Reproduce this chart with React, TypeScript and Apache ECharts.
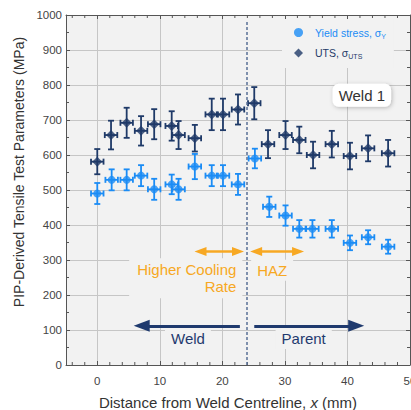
import React, { useEffect, useRef } from "react";
import * as echarts from "echarts";

// ---- data ----
const yieldX = [0, 2.3, 4.7, 7.0, 9.1, 11.9, 13.0, 15.6, 18.3, 20.1, 22.5, 25.2, 27.5, 30.1, 32.3, 34.4, 37.5, 40.4, 43.3, 46.5];
const yieldY = [490, 529, 529, 541, 502, 516, 502, 567, 541, 541, 516, 590, 452, 427, 389, 389, 389, 349, 365, 338];
const yieldYErr = [30, 30, 30, 30, 30, 28, 30, 36, 30, 30, 30, 28, 29, 29, 25, 25, 25, 21, 20, 20];
const yieldXErr = [1, 1, 1, 1, 1, 1, 1, 1, 1, 1, 1, 1, 1, 1, 1, 1, 1, 1, 1, 1];

const utsX = [0, 2.2, 4.7, 7.0, 9.1, 11.9, 13.0, 15.6, 18.3, 20.1, 22.5, 25.1, 27.3, 30.1, 32.3, 34.5, 37.5, 40.4, 43.3, 46.5];
const utsY = [581, 657, 692, 669, 688, 683, 657, 648, 716, 716, 730, 748, 631, 657, 643, 600, 631, 597, 619, 605];
const utsYErr = [36, 41, 43, 42, 43, 42, 40, 38, 45, 45, 43, 46, 40, 40, 38, 38, 38, 38, 37, 38];
const utsXErr = [1, 1, 1, 1, 1, 1, 1, 1, 1, 1, 1, 1, 1, 1, 1, 1, 1, 1, 1, 1];

const xMinorTicks = [-4, -2, 2, 4, 6, 8, 12, 14, 16, 18, 22, 24, 26, 28, 32, 34, 36, 38, 42, 44, 46, 48];
const weldBoundary = 23.9;

const YC = "#1b8cf5";
const UC = "#1f3a68";
const OR = "#f7a823";
const NAVY = "#1f3a6e";
const FONT = "'Liberation Sans', Arial, sans-serif";
const BG = "#f2f2f2";

function errorRender(color: string) {
  return (params: any, api: any) => {
    const x = api.value(0);
    const y = api.value(1);
    const ex = api.value(2);
    const ey = api.value(3);
    const top = api.coord([x, y + ey]);
    const bot = api.coord([x, y - ey]);
    const l = api.coord([x - ex, y]);
    const r = api.coord([x + ex, y]);
    const cap = 3;
    const style = { stroke: color, lineWidth: 1.8 };
    const ln = (x1: number, y1: number, x2: number, y2: number) => ({
      type: "line",
      shape: { x1, y1, x2, y2 },
      style,
    });
    return {
      type: "group",
      children: [
        ln(top[0], top[1], bot[0], bot[1]),
        ln(top[0] - cap, top[1], top[0] + cap, top[1]),
        ln(bot[0] - cap, bot[1], bot[0] + cap, bot[1]),
        ln(l[0], l[1], r[0], r[1]),
        ln(l[0], l[1] - cap, l[0], l[1] + cap),
        ln(r[0], r[1] - cap, r[0], r[1] + cap),
      ],
    };
  };
}

export default function App() {
  const ref = useRef<HTMLDivElement>(null);
  useEffect(() => {
    document.body.style.margin = "0";
    const chart = echarts.init(ref.current!, undefined, { renderer: "svg" });
    const axisColor = "#555";
    const option: any = {
      animation: false,
      textStyle: { fontFamily: FONT },
      grid: {
        left: 66,
        top: 15,
        width: 344,
        height: 350,
        show: true,
        backgroundColor: BG,
        borderWidth: 0,
        containLabel: false,
        outerBoundsMode: "none",
      },
      legend: {
        orient: "vertical",
        left: 282,
        top: 19,
        padding: [8, 8, 8, 12],
        itemGap: 8,
        itemWidth: 9,
        itemHeight: 9,
        symbolKeepAspect: true,
        backgroundColor: BG,
        selectedMode: false,
        data: ["Yield", "UTS"],
        formatter: (name: string) =>
          name === "Yield" ? "{y|Yield stress, σ}{ys|Y}" : "{u|UTS, σ}{us|UTS}",
        textStyle: {
          rich: {
            y: { color: YC, fontSize: 10.5, lineHeight: 14, fontFamily: FONT, padding: [0, 0, 0, 7] },
            ys: { color: YC, fontSize: 7, lineHeight: 8, verticalAlign: "bottom", fontFamily: FONT },
            u: { color: UC, fontSize: 10.5, lineHeight: 14, fontFamily: FONT, padding: [0, 0, 0, 7] },
            us: { color: UC, fontSize: 7, lineHeight: 8, verticalAlign: "bottom", fontFamily: FONT },
          },
        },
      },
      xAxis: [
        {
          type: "value",
          min: -5,
          max: 50,
          splitNumber: 5,
          name: "{n|Distance from Weld Centreline, }{i|x}{n| (mm)}",
          nameLocation: "middle",
          nameGap: 30,
          nameTextStyle: {
            padding: [0, 20, 0, 0],
            rich: {
              n: { fontSize: 15, color: "#333", fontFamily: FONT },
              i: { fontSize: 15, color: "#333", fontStyle: "italic", fontFamily: FONT },
            },
          },
          axisLine: { show: true, onZero: false, lineStyle: { color: axisColor } },
          axisTick: { show: true, inside: true, length: 4, lineStyle: { color: axisColor } },
          axisLabel: { showMinLabel: false, color: "#444", fontSize: 11.5, margin: 10 },
          splitLine: { show: true, lineStyle: { color: "#c6c6c6" } },
        },
        {
          type: "value",
          position: "top",
          min: -5,
          max: 50,
          splitNumber: 5,
          axisLine: { show: true, onZero: false, lineStyle: { color: axisColor } },
          axisTick: { show: true, inside: true, length: 4, lineStyle: { color: axisColor } },
          axisLabel: { show: false },
          splitLine: { show: false },
        },
      ],
      yAxis: [
        {
          type: "value",
          min: 0,
          max: 1000,
          interval: 100,
          name: "PIP-Derived Tensile Test Parameters (MPa)",
          nameLocation: "middle",
          nameGap: 38,
          nameTextStyle: { fontSize: 14, color: "#333", padding: [0, 0, 0, 36] },
          axisLine: { show: true, onZero: false, lineStyle: { color: axisColor } },
          axisTick: { show: true, inside: true, length: 4, lineStyle: { color: axisColor } },
          minorTick: { show: true, splitNumber: 2, length: 3, lineStyle: { color: axisColor } },
          axisLabel: { color: "#444", fontSize: 11.5, margin: 4, formatter: (v: number) => String(v) },
          splitLine: { show: true, lineStyle: { color: "#c6c6c6" } },
        },
        {
          type: "value",
          position: "right",
          min: 0,
          max: 1000,
          interval: 100,
          axisLine: { show: true, onZero: false, lineStyle: { color: axisColor } },
          axisTick: { show: true, inside: true, length: 4, lineStyle: { color: axisColor } },
          minorTick: { show: true, splitNumber: 2, length: 3, lineStyle: { color: axisColor } },
          axisLabel: { show: false },
          splitLine: { show: false },
        },
      ],
      series: [
        {
          type: "custom",
          name: "xminor",
          silent: true,
          renderItem: (params: any, api: any) => {
            const x = api.value(0);
            const b = api.coord([x, 0]);
            const t = api.coord([x, 1000]);
            const style = { stroke: axisColor, lineWidth: 1 };
            return {
              type: "group",
              children: [
                { type: "line", shape: { x1: b[0], y1: b[1], x2: b[0], y2: b[1] - 3 }, style },
                { type: "line", shape: { x1: t[0], y1: t[1], x2: t[0], y2: t[1] + 3 }, style },
              ],
            };
          },
          encode: { x: 0, y: 1 },
          data: xMinorTicks.map((v) => [v, 0]),
          z: 1,
          markLine: {
            silent: true,
            label: { show: false },
            emphasis: { disabled: true },
            data: [
              [
                { xAxis: weldBoundary, yAxis: 0, symbol: "none", lineStyle: { color: "#5a7096", width: 1.5, type: [3, 2] } },
                { xAxis: weldBoundary, yAxis: 985, symbol: "none", lineStyle: { color: "#5a7096", width: 1.5, type: [3, 2] } },
              ],
              [
                { coord: [16.5, 324], symbol: "triangle", symbolSize: [9, 12], lineStyle: { color: OR, width: 2.5, type: "solid" } },
                { coord: [22.5, 324], symbol: "triangle", symbolSize: [9, 12], lineStyle: { color: OR, width: 2.5, type: "solid" } },
              ],
              [
                { coord: [25.4, 324], symbol: "triangle", symbolSize: [9, 12], lineStyle: { color: OR, width: 2.5, type: "solid" } },
                { coord: [32.1, 324], symbol: "triangle", symbolSize: [9, 12], lineStyle: { color: OR, width: 2.5, type: "solid" } },
              ],
              [
                { coord: [22.8, 112], symbol: "none", lineStyle: { color: NAVY, width: 3, type: "solid" } },
                { coord: [7.1, 112], symbol: "triangle", symbolSize: [12, 16], lineStyle: { color: NAVY, width: 3, type: "solid" } },
              ],
              [
                { coord: [25.1, 112], symbol: "none", lineStyle: { color: NAVY, width: 3, type: "solid" } },
                { coord: [41.4, 112], symbol: "triangle", symbolSize: [12, 16], lineStyle: { color: NAVY, width: 3, type: "solid" } },
              ],
            ],
          },
          markPoint: {
            silent: true,
            symbol: "circle",
            symbolSize: 0,
            itemStyle: { color: "rgba(0,0,0,0)" },
            data: [
              {
                coord: [23.2, 247.6],
                label: {
                  show: true,
                  position: "left",
                  distance: 0,
                  formatter: "Higher Cooling\nRate",
                  align: "right",
                  color: OR,
                  fontSize: 15,
                  lineHeight: 17,
                  backgroundColor: BG,
                  padding: [3, 6, 3, 8],
                },
              },
              {
                coord: [24.6, 271],
                label: {
                  show: true,
                  position: "right",
                  distance: 0,
                  formatter: "HAZ",
                  color: OR,
                  fontSize: 15,
                  backgroundColor: BG,
                  padding: [3, 6],
                },
              },
              {
                coord: [14.5, 76],
                label: {
                  show: true,
                  position: "inside",
                  formatter: "Weld",
                  color: NAVY,
                  fontSize: 15,
                  backgroundColor: BG,
                  padding: [3, 6],
                },
              },
              {
                coord: [33.0, 76],
                label: {
                  show: true,
                  position: "inside",
                  formatter: "Parent",
                  color: NAVY,
                  fontSize: 15,
                  backgroundColor: BG,
                  padding: [3, 6],
                },
              },
              {
                coord: [42.3, 771],
                label: {
                  show: true,
                  position: "inside",
                  formatter: "Weld 1",
                  color: "#333",
                  fontSize: 15,
                  backgroundColor: "#ffffff",
                  borderRadius: 6,
                  padding: [4, 6],
                  shadowBlur: 4,
                  shadowColor: "rgba(0,0,0,0.25)",
                  shadowOffsetX: 1,
                  shadowOffsetY: 1,
                },
              },
            ],
          },
        },
        {
          type: "custom",
          name: "yieldErr",
          silent: true,
          renderItem: errorRender(YC),
          encode: { x: 0, y: 1 },
          data: yieldX.map((x, i) => [x, yieldY[i], yieldXErr[i], yieldYErr[i]]),
          z: 2,
        },
        {
          type: "custom",
          name: "utsErr",
          silent: true,
          renderItem: errorRender(UC),
          encode: { x: 0, y: 1 },
          data: utsX.map((x, i) => [x, utsY[i], utsXErr[i], utsYErr[i]]),
          z: 2,
        },
        {
          type: "scatter",
          name: "Yield",
          symbol: "circle",
          symbolSize: 8,
          itemStyle: { color: YC },
          data: yieldX.map((x, i) => [x, yieldY[i]]),
          z: 3,
        },
        {
          type: "scatter",
          name: "UTS",
          symbol: "diamond",
          symbolSize: 10,
          itemStyle: { color: UC },
          data: utsX.map((x, i) => [x, utsY[i]]),
          z: 3,
        },
      ],
    };
    chart.setOption(option);
    return () => chart.dispose();
  }, []);
  return <div ref={ref} style={{ width: 411, height: 410 }} />;
}
